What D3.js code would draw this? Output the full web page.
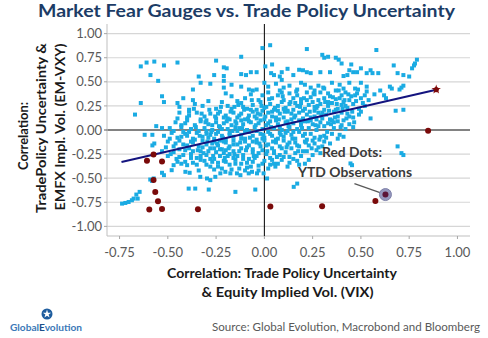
<!DOCTYPE html>
<head>
  <meta charset="utf-8">
  <script src="https://cdn.jsdelivr.net/npm/d3@7"></script>
</head>

<style>
  body { margin: 0; background: #fff; }
  text { font-family: Lato, 'Open Sans', sans-serif; }
  .grid { stroke: #d6d6d6; stroke-width: 1.2; }
  .zero { stroke: #595959; stroke-width: 1.6; }
  .tick-label { font-size: 13px; fill: #595959; }
  .axis-title { font-size: 14px; font-weight: bold; fill: #1a1a1a; }
</style>

<body>
  <svg id="chart"></svg>
</body>

<script>

var xTicks = [-0.75, -0.5, -0.25, 0, 0.25, 0.5, 0.75, 1.0];
var yTicks = [-1, -0.75, -0.5, -0.25, 0, 0.25, 0.5, 0.75, 1];

// rolling correlations: x = vs VIX, y = vs EM-VXY
var bluePts = [
  // upper, sparse
  [-0.64,0.66],[-0.61,0.70],[-0.57,0.71],[-0.52,0.67],[-0.45,0.70],[-0.59,0.57],[-0.55,0.51],
  [-0.25,0.72],[-0.21,0.65],[-0.195,0.64],[-0.12,0.76],[-0.26,0.57],[-0.21,0.56],[-0.21,0.51],
  [-0.34,0.555],[-0.33,0.49],[-0.12,0.58],[-0.095,0.57],[-0.07,0.60],[-0.04,0.60],
  [-0.01,0.85],[0.03,0.88],[0.04,0.68],[0.005,0.66],[0.035,0.59],[0.05,0.57],[0.08,0.555],
  [0.09,0.52],[0.09,0.60],[0.12,0.635],[0.15,0.57],[0.18,0.625],[0.20,0.62],[0.22,0.60],
  [0.24,0.59],[0.22,0.84],[0.29,0.60],[0.30,0.78],[0.31,0.75],[0.33,0.76],[0.34,0.60],
  [0.37,0.75],[0.385,0.73],[0.40,0.69],[0.41,0.56],[0.43,0.57],[0.45,0.68],[0.46,0.60],
  [0.48,0.60],[0.53,0.59],[0.56,0.59],[0.59,0.59],[0.58,0.83],[0.67,0.67],[0.69,0.59],
  [0.75,0.555],[0.765,0.64],[0.775,0.67],[0.78,0.69],[0.79,0.73],[0.44,0.62],[0.50,0.64],
  [0.55,0.62],[0.72,0.57],
  // 0.40 .. 0.50
  [-0.37,0.42],[-0.21,0.44],[-0.17,0.47],[-0.08,0.42],[-0.06,0.41],[-0.04,0.42],[-0.12,0.45],
  [0.02,0.45],[0.06,0.48],[0.10,0.44],[0.13,0.46],[0.17,0.42],[0.21,0.47],[0.24,0.44],
  [0.26,0.41],[0.28,0.46],[0.31,0.43],[0.35,0.49],[0.39,0.47],[0.41,0.43],[0.44,0.49],
  [0.47,0.43],[0.50,0.49],[0.53,0.45],[0.60,0.41],[0.65,0.45],[0.66,0.43],[0.70,0.42],
  [0.71,0.44],[0.72,0.46],[-0.28,0.48],[0.00,0.49],[0.08,0.41],[0.19,0.49],[0.37,0.41],
  // 0.30 .. 0.40
  [-0.53,0.35],[-0.52,0.29],[-0.37,0.31],[-0.29,0.30],[-0.17,0.35],[-0.20,0.38],[-0.10,0.33],
  [-0.07,0.37],[-0.03,0.31],[-0.01,0.36],[0.02,0.39],[0.04,0.33],[0.07,0.36],[0.10,0.31],
  [0.13,0.38],[0.15,0.33],[0.17,0.36],[0.19,0.32],[0.22,0.39],[0.24,0.34],[0.26,0.37],
  [0.28,0.31],[0.31,0.33],[0.33,0.38],[0.34,0.35],[0.37,0.32],[0.40,0.36],[0.42,0.39],
  [0.45,0.35],[0.48,0.38],[0.50,0.33],[0.52,0.36],[0.57,0.37],[0.62,0.36],[0.63,0.33],
  [-0.14,0.30],[0.09,0.39],[0.29,0.39],[0.44,0.31],[-0.42,0.33],
  // 0.20 .. 0.30
  [-0.64,0.28],[-0.45,0.28],[-0.44,0.24],[-0.39,0.21],[-0.36,0.27],[-0.32,0.25],[-0.25,0.22],
  [-0.19,0.25],[-0.155,0.24],[-0.12,0.28],[-0.09,0.22],[-0.06,0.26],[-0.04,0.21],[-0.02,0.29],
  [0.01,0.24],[0.03,0.27],[0.05,0.21],[0.07,0.25],[0.09,0.29],[0.11,0.23],[0.13,0.27],
  [0.15,0.21],[0.17,0.25],[0.19,0.28],[0.21,0.22],[0.23,0.26],[0.25,0.29],[0.27,0.23],
  [0.29,0.27],[0.31,0.21],[0.33,0.25],[0.35,0.28],[0.38,0.22],[0.40,0.26],[0.43,0.23],
  [0.46,0.27],[0.49,0.22],[0.52,0.25],[0.68,0.20],[0.72,0.21],[-0.01,0.20],[0.12,0.20],
  [0.26,0.20],[0.41,0.29],[-0.22,0.29],
  // 0.10 .. 0.20
  [-0.67,0.16],[-0.44,0.18],[-0.45,0.12],[-0.40,0.13],[-0.39,0.19],[-0.35,0.18],[-0.31,0.14],
  [-0.28,0.17],[-0.25,0.12],[-0.23,0.19],[-0.20,0.15],[-0.18,0.11],[-0.16,0.18],[-0.14,0.13],
  [-0.12,0.17],[-0.10,0.11],[-0.08,0.15],[-0.06,0.19],[-0.04,0.12],[-0.02,0.16],[0.00,0.11],
  [0.02,0.18],[0.04,0.14],[0.06,0.10],[0.08,0.17],[0.10,0.13],[0.12,0.19],[0.14,0.11],
  [0.16,0.15],[0.18,0.18],[0.20,0.12],[0.22,0.16],[0.24,0.10],[0.26,0.14],[0.28,0.18],
  [0.30,0.12],[0.32,0.16],[0.34,0.11],[0.36,0.19],[0.38,0.14],[0.41,0.10],[0.43,0.17],
  [0.46,0.13],[0.49,0.16],[0.55,0.12],[-0.33,0.11],[-0.21,0.13],[0.07,0.20],[0.27,0.11],
  [0.40,0.18],
  // 0.00 .. 0.10
  [-0.56,0.04],[-0.53,0.02],[-0.49,0.02],[-0.46,0.08],[-0.43,0.03],[-0.41,0.07],[-0.38,0.01],
  [-0.36,0.05],[-0.33,0.09],[-0.31,0.02],[-0.29,0.06],[-0.27,0.00],[-0.25,0.08],[-0.23,0.03],
  [-0.21,0.07],[-0.19,0.01],[-0.17,0.05],[-0.15,0.09],[-0.13,0.02],[-0.11,0.06],[-0.09,0.00],
  [-0.07,0.08],[-0.05,0.03],[-0.03,0.07],[-0.01,0.01],[0.01,0.05],[0.03,0.09],[0.05,0.02],
  [0.07,0.06],[0.09,0.00],[0.11,0.08],[0.13,0.03],[0.15,0.07],[0.17,0.01],[0.19,0.05],
  [0.21,0.09],[0.23,0.02],[0.25,0.06],[0.27,0.00],[0.29,0.08],[0.31,0.04],[0.33,0.07],
  [0.36,0.02],[0.38,0.09],[0.40,0.05],[0.42,0.01],[0.44,0.06],[0.46,0.03],[-0.40,0.10],
  [0.18,0.10],[-0.12,0.10],[0.35,0.10],
  // -0.10 .. 0.00
  [-0.62,-0.05],[-0.58,-0.05],[-0.48,-0.03],[-0.45,-0.08],[-0.42,-0.02],[-0.40,-0.06],[-0.37,-0.09],
  [-0.35,-0.03],[-0.32,-0.07],[-0.30,-0.01],[-0.28,-0.05],[-0.26,-0.09],[-0.24,-0.02],[-0.22,-0.06],
  [-0.20,-0.10],[-0.18,-0.03],[-0.16,-0.07],[-0.14,-0.01],[-0.12,-0.05],[-0.10,-0.09],[-0.08,-0.02],
  [-0.06,-0.06],[-0.04,-0.10],[-0.02,-0.04],[0.00,-0.08],[0.02,-0.02],[0.04,-0.06],[0.06,-0.10],
  [0.08,-0.03],[0.10,-0.07],[0.12,-0.01],[0.14,-0.05],[0.16,-0.09],[0.18,-0.02],[0.20,-0.06],
  [0.22,-0.10],[0.24,-0.04],[0.26,-0.08],[0.29,-0.07],[0.31,-0.06],[0.34,-0.14],[0.35,-0.04],
  [0.38,-0.09],[0.39,-0.05],[0.41,-0.07],
  // -0.20 .. -0.10
  [-0.57,-0.14],[-0.58,-0.16],[-0.50,-0.12],[-0.47,-0.17],[-0.44,-0.11],[-0.42,-0.15],[-0.39,-0.19],
  [-0.37,-0.13],[-0.34,-0.17],[-0.32,-0.11],[-0.30,-0.15],[-0.28,-0.19],[-0.26,-0.12],[-0.24,-0.16],
  [-0.22,-0.20],[-0.20,-0.13],[-0.18,-0.17],[-0.16,-0.11],[-0.14,-0.15],[-0.12,-0.19],[-0.10,-0.12],
  [-0.08,-0.16],[-0.06,-0.20],[-0.04,-0.13],[-0.02,-0.17],[0.00,-0.11],[0.02,-0.15],[0.04,-0.19],
  [0.06,-0.13],[0.08,-0.17],[0.10,-0.11],[0.12,-0.15],[0.14,-0.19],[0.16,-0.13],[0.18,-0.17],
  [0.21,-0.12],[0.23,-0.16],[0.26,-0.14],[0.28,-0.18],[0.31,-0.12],[0.69,-0.17],
  // -0.30 .. -0.20
  [-0.53,-0.22],[-0.50,-0.27],[-0.47,-0.23],[-0.44,-0.28],[-0.41,-0.21],[-0.38,-0.25],[-0.35,-0.29],
  [-0.33,-0.22],[-0.30,-0.26],[-0.28,-0.30],[-0.25,-0.23],[-0.23,-0.27],[-0.20,-0.21],[-0.18,-0.25],
  [-0.16,-0.29],[-0.13,-0.22],[-0.11,-0.26],[-0.08,-0.30],[-0.06,-0.23],[-0.04,-0.27],[-0.01,-0.21],
  [0.01,-0.25],[0.03,-0.29],[0.05,-0.22],[0.08,-0.26],[0.11,-0.23],[0.13,-0.28],[0.16,-0.24],
  [0.19,-0.27],[0.22,-0.22],[0.25,-0.26],[0.29,-0.24],[0.71,-0.24],[0.72,-0.26],
  // -0.40 .. -0.30
  [-0.47,-0.365],[-0.45,-0.33],[-0.43,-0.35],[-0.40,-0.365],[-0.37,-0.34],[-0.33,-0.31],[-0.30,-0.36],
  [-0.27,-0.33],[-0.24,-0.38],[-0.21,-0.32],[-0.18,-0.36],[-0.15,-0.31],[-0.12,-0.35],[-0.09,-0.39],
  [-0.06,-0.33],[-0.03,-0.37],[0.00,-0.32],[0.03,-0.36],[0.05,-0.35],[0.057,-0.38],[0.09,-0.31],
  [0.13,-0.34],[0.17,-0.32],[0.21,-0.35],[0.446,-0.347],[0.454,-0.365],
  // -0.50 .. -0.40
  [-0.53,-0.444],[-0.52,-0.469],[-0.48,-0.417],[-0.409,-0.434],[-0.387,-0.444],[-0.332,-0.486],
  [-0.297,-0.503],[-0.28,-0.52],[-0.254,-0.486],[-0.228,-0.45],[-0.202,-0.434],[-0.176,-0.45],
  [-0.142,-0.45],[-0.124,-0.469],[-0.081,-0.45],[-0.064,-0.434],[-0.038,-0.45],[-0.004,-0.45],
  [0.014,-0.503],[-0.34,-0.42],[-0.26,-0.41],[-0.10,-0.42],
  // lower tail
  [-0.591,-0.514],[-0.582,-0.528],[-0.573,-0.503],[-0.392,-0.608],[-0.358,-0.608],
  [-0.288,-0.618],[-0.15,-0.642],[-0.047,-0.618],[0.17,-0.556],[0.152,-0.59],
  [-0.737,-0.764],[-0.72,-0.757],[-0.703,-0.747],[-0.686,-0.729],[-0.677,-0.712],
  [-0.663,-0.67],[-0.646,-0.642],[-0.656,-0.712],
  // dense core along the fit
  [-0.43,0.05],[-0.41,-0.04],[-0.39,0.15],[-0.38,-0.12],[-0.365,0.22],[-0.355,0.03],[-0.345,-0.21],
  [-0.335,-0.06],[-0.325,0.17],[-0.315,-0.24],[-0.305,0.08],[-0.295,-0.12],[-0.285,0.21],[-0.275,-0.02],
  [-0.265,-0.27],[-0.255,0.14],[-0.245,-0.14],[-0.235,0.04],[-0.225,0.24],[-0.215,-0.08],[-0.205,-0.29],
  [-0.195,0.09],[-0.185,-0.19],[-0.175,0.19],[-0.165,-0.01],[-0.155,-0.25],[-0.145,0.07],[-0.135,0.26],
  [-0.125,-0.13],[-0.115,0.02],[-0.105,0.21],[-0.095,-0.21],[-0.085,0.12],[-0.075,-0.08],[-0.065,0.31],
  [-0.055,-0.27],[-0.045,0.05],[-0.035,0.17],[-0.025,-0.14],[-0.015,0.25],[-0.005,-0.05],[0.005,0.14],
  [0.015,-0.22],[0.025,0.32],[0.035,0.03],[0.045,-0.12],[0.055,0.23],[0.065,-0.28],[0.075,0.11],
  [0.085,-0.05],[0.095,0.35],[0.105,0.19],[0.115,-0.18],[0.125,0.04],[0.135,0.29],[0.145,-0.09],
  [0.155,0.13],[0.165,0.40],[0.175,-0.22],[0.185,0.24],[0.195,0.02],[0.205,0.33],[0.215,-0.13],
  [0.225,0.09],[0.235,0.19],[0.245,-0.19],[0.255,0.38],[0.265,0.05],[0.275,0.25],[0.285,-0.10],
  [0.295,0.15],[0.305,0.44],[0.315,0.29],[0.325,-0.02],[0.335,0.20],[0.345,0.06],[0.355,0.34],
  [0.365,0.13],[0.375,0.27],[0.385,0.41],[0.395,0.03],[0.405,0.22],[0.415,0.31],[0.425,0.12],
  [0.435,0.37],[0.455,0.19],[0.465,0.08],[0.475,0.30],[0.485,0.42],[0.51,0.28],[0.53,0.40],[0.54,0.31],
  [-0.30,0.10],[-0.29,-0.08],[-0.27,0.05],[-0.26,-0.19],[-0.24,0.17],[-0.23,-0.11],[-0.22,0.01],
  [-0.21,-0.24],[-0.19,0.12],[-0.18,-0.05],[-0.17,0.22],[-0.16,-0.15],[-0.15,0.03],[-0.14,-0.27],
  [-0.13,0.15],[-0.12,-0.09],[-0.11,0.24],[-0.10,-0.02],[-0.09,-0.18],[-0.08,0.09],[-0.07,0.21],
  [-0.06,-0.12],[-0.05,0.14],[-0.04,-0.01],[-0.03,-0.24],[-0.02,0.10],[-0.01,-0.09],[0.00,0.23],
  [0.01,-0.16],[0.02,0.07],[0.03,-0.04],[0.04,0.19],[0.05,-0.24],[0.06,0.13],[0.07,-0.09],
  [0.08,0.03],[0.09,-0.19],[0.10,0.22],[0.11,-0.03],[0.12,0.09],[0.13,-0.13],[0.14,0.17],
  [0.15,-0.02],[0.16,0.28],[0.17,-0.16],[0.19,0.08],[0.20,0.20],[0.21,-0.04],[0.22,0.31],
  [0.24,0.13],[0.25,-0.11],[0.26,0.24],[0.28,0.04],[0.30,0.18],[0.32,-0.08],[0.33,0.29],
  [0.36,0.08],[0.37,0.21],[0.39,0.33],[0.42,0.25],[0.44,0.14],[0.47,0.36],[0.50,0.19],
  [-0.52,-0.06],[-0.51,-0.18],[-0.49,-0.09],[-0.485,-0.25],[-0.47,-0.01],[-0.46,-0.14],[-0.455,-0.30],
  [-0.44,-0.20],[-0.43,-0.07],[-0.42,-0.26],[-0.41,-0.33],[-0.40,-0.16],[-0.39,-0.02],[-0.38,-0.29],
  [-0.37,-0.22],[-0.36,-0.10],[-0.35,-0.36],[-0.34,-0.01],[-0.33,-0.27],[-0.32,-0.18],[-0.31,-0.32],
  [-0.30,-0.04],[-0.29,-0.22],[-0.28,-0.38],[-0.27,-0.14],[-0.26,-0.30],[-0.25,-0.04],[-0.24,-0.34],
  [-0.23,-0.20],[-0.22,-0.40],[-0.21,-0.12],[-0.20,-0.33],[-0.19,-0.27],[-0.17,-0.41],[-0.16,-0.22],
  [-0.15,-0.35],[-0.13,-0.40],[-0.11,-0.30],[-0.09,-0.34],[-0.07,-0.38],[-0.05,-0.29],[-0.03,-0.42],
  [-0.01,-0.35],[0.02,-0.40],[0.04,-0.31],[0.07,-0.35],[0.10,-0.28],[0.12,-0.38],[0.15,-0.30],
  [0.18,-0.36],[0.20,-0.22],[0.23,-0.31],[0.27,-0.21],[0.30,-0.17]
];

// year-to-date observations
var ytdPts = [
  [-0.574,-0.253],[-0.608,-0.32],[-0.53,-0.326],[-0.574,-0.52],[-0.565,-0.643],
  [-0.551,-0.74],[-0.596,-0.826],[-0.53,-0.82],[-0.344,-0.823],[0.031,-0.795],
  [0.848,-0.007],[0.299,-0.79],[0.575,-0.736]
];
var calloutPt = [0.627, -0.67];
var latestPt = [0.89, 0.42];

// least squares fit
var trendSlope = 0.46,
    trendIntercept = 0.008,
    trendRange = [-0.74, 0.89];

var width = 488, height = 338;

var svg = d3.select('#chart')
  .attr('width', width)
  .attr('height', height);

svg.append('rect').attr('width', width).attr('height', height).attr('fill', '#fff');

var x = d3.scaleLinear().domain([-0.815, 1.065]).range([107, 470]);
var y = d3.scaleLinear().domain([-1.1, 1.1]).range([236, 24]);

var plotL = x.range()[0], plotR = x.range()[1],
    plotT = y.range()[1], plotB = y.range()[0];

// gridlines
svg.selectAll('line.grid')
  .data(yTicks)
  .enter()
  .append('line')
  .attr('class', function(d) { return d == 0 ? 'zero' : 'grid'; })
  .attr('x1', plotL).attr('x2', plotR)
  .attr('y1', function(d) { return y(d); })
  .attr('y2', function(d) { return y(d); });

// axes
svg.append('line')
  .attr('x1', plotL).attr('x2', plotL)
  .attr('y1', plotT).attr('y2', plotB)
  .attr('stroke', '#bfbfbf');

svg.append('line')
  .attr('x1', plotL).attr('x2', plotR)
  .attr('y1', plotB).attr('y2', plotB)
  .attr('stroke', '#bfbfbf');

svg.selectAll('.ytick')
  .data(yTicks)
  .enter()
  .append('line')
  .attr('x1', plotL - 3).attr('x2', plotL)
  .attr('y1', function(d) { return y(d); })
  .attr('y2', function(d) { return y(d); })
  .attr('stroke', function(d) { return d == 0 ? '#595959' : '#a6a6a6'; });

svg.selectAll('.xtick')
  .data(xTicks)
  .enter()
  .append('line')
  .attr('x1', function(d) { return x(d); })
  .attr('x2', function(d) { return x(d); })
  .attr('y1', plotB).attr('y2', plotB + 3)
  .attr('stroke', '#a6a6a6');

svg.selectAll('.ylab')
  .data(yTicks)
  .enter()
  .append('text')
  .attr('class', 'tick-label')
  .attr('text-anchor', 'end')
  .attr('x', plotL - 5)
  .attr('y', function(d) { return y(d) + 4.6; })
  .text(function(d) { return d.toFixed(2); });

svg.selectAll('.xlab')
  .data(xTicks)
  .enter()
  .append('text')
  .attr('class', 'tick-label')
  .attr('text-anchor', 'middle')
  .attr('x', function(d) { return x(d); })
  .attr('y', 257)
  .text(function(d) { return d.toFixed(2); });

// vertical zero line
svg.append('line')
  .attr('x1', x(0)).attr('x2', x(0))
  .attr('y1', plotT).attr('y2', plotB)
  .attr('stroke', '#000')
  .attr('stroke-width', 1);

// scatter
svg.append('g')
  .selectAll('rect')
  .data(bluePts)
  .enter()
  .append('rect')
  .attr('x', function(d) { return x(d[0]) - 2; })
  .attr('y', function(d) { return y(d[1]) - 2; })
  .attr('width', 4)
  .attr('height', 4)
  .attr('fill', '#1aabe3');

// trend line
svg.append('line')
  .attr('x1', x(trendRange[0]))
  .attr('y1', y(trendSlope * trendRange[0] + trendIntercept))
  .attr('x2', x(trendRange[1]))
  .attr('y2', y(trendSlope * trendRange[1] + trendIntercept))
  .attr('stroke', '#14147f')
  .attr('stroke-width', 2);

svg.append('g')
  .selectAll('circle')
  .data(ytdPts)
  .enter()
  .append('circle')
  .attr('cx', function(d) { return x(d[0]); })
  .attr('cy', function(d) { return y(d[1]); })
  .attr('r', 3)
  .attr('fill', '#7a0a0a');

svg.append('path')
  .attr('d', d3.symbol().type(d3.symbolStar).size(28)())
  .attr('transform', 'translate(' + x(latestPt[0]) + ',' + y(latestPt[1]) + ')')
  .attr('fill', '#8b1010');
svg.append('circle')
  .attr('cx', x(latestPt[0])).attr('cy', y(latestPt[1]))
  .attr('r', 2.6).attr('fill', '#7a0a0a');

// callout
var cx = x(calloutPt[0]), cy = y(calloutPt[1]);
svg.append('line')
  .attr('x1', cx - 31).attr('y1', cy - 11)
  .attr('x2', cx - 4).attr('y2', cy - 1.5)
  .attr('stroke', '#595959')
  .attr('stroke-width', 1.3);
svg.append('circle')
  .attr('cx', cx).attr('cy', cy).attr('r', 6)
  .attr('fill', '#9597bd')
  .attr('stroke', '#7d80a8');
svg.append('circle')
  .attr('cx', cx).attr('cy', cy).attr('r', 3)
  .attr('fill', '#5b1437');

svg.append('text')
  .attr('x', 352).attr('y', 156.5)
  .attr('text-anchor', 'middle')
  .attr('textLength', 60).attr('lengthAdjust', 'spacingAndGlyphs')
  .style('font-size', '14px').style('font-weight', 'bold').style('fill', '#3a3a3a')
  .text('Red Dots:');
svg.append('text')
  .attr('x', 355).attr('y', 176.5)
  .attr('text-anchor', 'middle')
  .attr('textLength', 114).attr('lengthAdjust', 'spacingAndGlyphs')
  .style('font-size', '14px').style('font-weight', 'bold').style('fill', '#3a3a3a')
  .text('YTD Observations');

// titles
svg.append('text')
  .attr('x', 246.5).attr('y', 17)
  .attr('text-anchor', 'middle')
  .attr('textLength', 417).attr('lengthAdjust', 'spacingAndGlyphs')
  .style('font-size', '16.5px').style('font-weight', 'bold').style('fill', '#1c3c66')
  .text('Market Fear Gauges vs. Trade Policy Uncertainty');

var yTitle = [
  {t: 'Correlation:', bx: 27.5, cy: 136, len: 68},
  {t: 'TradePolicy Uncertainty &', bx: 46, cy: 128, len: 170},
  {t: 'EMFX Impl. Vol. (EM-VXY)', bx: 64.5, cy: 127, len: 167}
];
svg.selectAll('.ytitle')
  .data(yTitle)
  .enter()
  .append('text')
  .attr('class', 'axis-title')
  .attr('text-anchor', 'middle')
  .attr('transform', function(d) { return 'translate(' + d.bx + ',' + d.cy + ') rotate(-90)'; })
  .attr('textLength', function(d) { return d.len; })
  .attr('lengthAdjust', 'spacingAndGlyphs')
  .text(function(d) { return d.t; });

var xTitle = [
  {t: 'Correlation: Trade Policy Uncertainty', cx: 282, by: 277.5, len: 230},
  {t: '& Equity Implied Vol. (VIX)', cx: 287.5, by: 296.5, len: 172}
];
svg.selectAll('.xtitle')
  .data(xTitle)
  .enter()
  .append('text')
  .attr('class', 'axis-title')
  .attr('text-anchor', 'middle')
  .attr('x', function(d) { return d.cx; })
  .attr('y', function(d) { return d.by; })
  .attr('textLength', function(d) { return d.len; })
  .attr('lengthAdjust', 'spacingAndGlyphs')
  .text(function(d) { return d.t; });

svg.append('text')
  .attr('x', 212).attr('y', 330.5)
  .attr('textLength', 268).attr('lengthAdjust', 'spacingAndGlyphs')
  .style('font-size', '11px').style('fill', '#595959')
  .text('Source: Global Evolution, Macrobond and Bloomberg');

// logo
var logo = svg.append('g').attr('transform', 'translate(47,314)');
logo.append('circle').attr('r', 5.5).attr('fill', '#1d5c9e');
logo.append('path')
  .attr('d', d3.symbol().type(d3.symbolStar).size(22)())
  .attr('fill', '#fff');
var logoText = svg.append('text')
  .attr('x', 10).attr('y', 331)
  .attr('textLength', 72).attr('lengthAdjust', 'spacingAndGlyphs')
  .style('font-size', '9px').style('font-weight', 'bold');
logoText.append('tspan').attr('fill', '#3b78b8').text('Global');
logoText.append('tspan').attr('fill', '#1d4f8a').text('E');
logoText.append('tspan').attr('fill', '#3b78b8').text('volution');

</script>
